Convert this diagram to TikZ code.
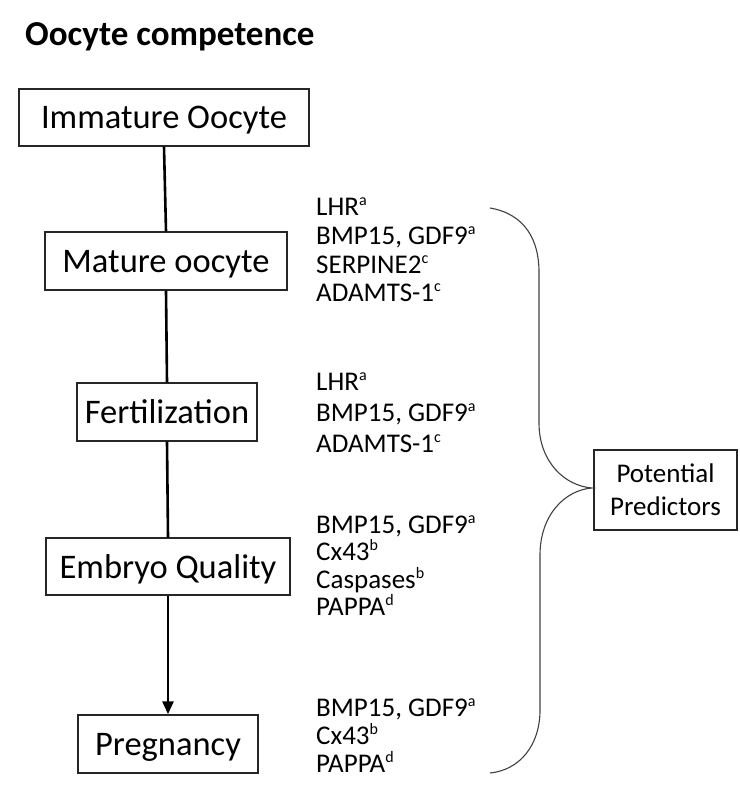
\documentclass[tikz,border=0pt]{standalone}
\usepackage{fontspec}
\setmainfont{Carlito}
\usetikzlibrary{arrows.meta}
\newcommand\supmark[1]{\raisebox{0.35em}{\fontsize{16}{16}\selectfont #1}}
\tikzset{
  stage/.style={draw=black!85, line width=1.4pt, inner sep=0pt, text height=23pt, text depth=0pt,
                font=\fontsize{34.5}{40}\selectfont},
  pred/.style={anchor=base west, inner sep=0pt, font=\fontsize{27}{30}\selectfont},
  flow/.style={line width=2.6pt, black},
  brace/.style={line width=1.1pt, black!75},
}
\begin{document}
\begin{tikzpicture}[x=1pt,y=-1pt]
\useasboundingbox (0,0) rectangle (739,810);
\node[anchor=base west, inner sep=0pt, font=\fontsize{35}{40}\bfseries] (title) at (25,45.5) {Oocyte competence};

\node[stage, minimum width=290pt, minimum height=57pt] (imm) at (164,117.5) {Immature Oocyte};
\node[stage, minimum width=242pt, minimum height=58pt] (mat) at (166,261) {Mature oocyte};
\node[stage, minimum width=180pt, minimum height=58pt] (fer) at (167,412) {Fertilization};
\node[stage, minimum width=244pt, minimum height=57pt] (emb) at (168,566.5) {Embryo Quality};
\node[stage, minimum width=180pt, minimum height=58pt] (pre) at (168,744) {Pregnancy};

\draw[flow] (imm.south) -- (mat.north);
\draw[flow] (mat.south) -- (fer.north);
\draw[flow] (fer.south) -- (emb.north);
\draw[flow, -{Triangle[width=11pt,length=13pt]}] (emb.south) -- (pre.north);

% group 1
\node[pred] (g1a) at (316,215) {LHR\supmark{a}};
\node[pred] (g1b) at (316,244) {BMP15, GDF9\supmark{a}};
\node[pred] (g1c) at (316,273) {SERPINE2\supmark{c}};
\node[pred] (g1d) at (316,301) {ADAMTS-1\supmark{c}};
% group 2
\node[pred] (g2a) at (316,390) {LHR\supmark{a}};
\node[pred] (g2b) at (316,421) {BMP15, GDF9\supmark{a}};
\node[pred] (g2c) at (316,452) {ADAMTS-1\supmark{c}};
% group 3
\node[pred] (g3a) at (316,533) {BMP15, GDF9\supmark{a}};
\node[pred] (g3b) at (316,560) {Cx43\supmark{b}};
\node[pred] (g3c) at (316,588) {Caspases\supmark{b}};
\node[pred] (g3d) at (316,615) {PAPPA\supmark{d}};
% group 4
\node[pred] (g4a) at (316,716) {BMP15, GDF9\supmark{a}};
\node[pred] (g4b) at (316,744) {Cx43\supmark{b}};
\node[pred] (g4c) at (316,772) {PAPPA\supmark{d}};

\node[draw=black!85, line width=1.4pt, minimum width=143pt, minimum height=80pt, inner sep=0pt,
      align=center, font=\fontsize{27}{33}\selectfont] (pp) at (665.5,490) {Potential\\Predictors};

\coordinate (btop) at (490,208);
\coordinate (btip) at (592,488);
\coordinate (bbot) at (490,773);
\draw[brace] (btop) .. controls (525,214) and (539,240) .. (539,272) -- (539,423)
  .. controls (539,462) and (565,486) .. (btip)
  .. controls (565,490) and (540,515) .. (540,555) -- (540,710)
  .. controls (540,745) and (520,770) .. (bbot);
\end{tikzpicture}
\end{document}
